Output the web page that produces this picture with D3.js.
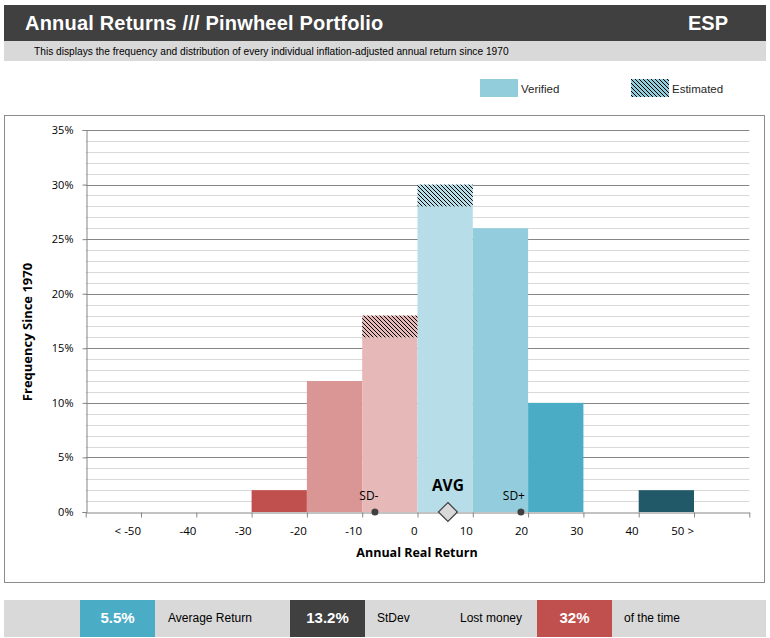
<!DOCTYPE html>
<html><head><meta charset="utf-8">
<script src="https://cdn.jsdelivr.net/npm/d3@7"></script>
<style>
body{margin:0;background:#fff;}
svg{display:block;}
</style></head>
<body>
<svg id="chart" width="770" height="638"></svg>
<script>
// ---- data ----
const binLabels = ["< -50","-40","-30","-20","-10","0","10","20","30","40","50 >"];
const binStarts = [-60,-50,-40,-30,-20,-10,0,10,20,30,40,50];
const verified  = [0,0,0,2,12,16,28,26,10,0,2,0];
const estimated = [0,0,0,0,0,2,2,0,0,0,0,0];
const binColors = ["#c0504d","#c0504d","#c0504d","#c0504d","#d99694","#e6b9b8","#b7dee8","#93cddd","#4bacc6","#4bacc6","#215968","#215968"];
const yTicks = [0,5,10,15,20,25,30,35];
const avgReturn = 5.5, stDev = 13.2, lostPct = 32;
const title = "Annual Returns /// Pinwheel Portfolio";
const country = "ESP";
const subtitle = "This displays the frequency and distribution of every individual inflation-adjusted annual return since 1970";

const svg = d3.select("#chart");
const sans = "'Liberation Sans', Arial, sans-serif";
const plotFont = "'Open Sans', 'Noto Sans', sans-serif";

// defs: hatch pattern (pixel diagonal)
const defs = svg.append("defs");
function hatch(id, bg){
  const p = defs.append("pattern").attr("id",id).attr("patternUnits","userSpaceOnUse")
    .attr("x",0).attr("y",0).attr("width",4).attr("height",4);
  p.append("rect").attr("width",4).attr("height",4).attr("fill",bg);
  [0,1,2,3].forEach(k=>p.append("rect").attr("x",k).attr("y",k).attr("width",1).attr("height",1).attr("fill","#000"));
}
binColors.forEach((c,i)=>hatch("h"+i,c));
hatch("hleg","#92cddc");

// header
svg.append("rect").attr("x",4).attr("y",5).attr("width",762).attr("height",36).attr("fill","#404040");
svg.append("text").attr("x",25).attr("y",30).attr("fill","#fff").attr("font-family",sans)
  .attr("font-weight","bold").attr("font-size",20).attr("letter-spacing",0.2).text(title);
svg.append("text").attr("x",728).attr("y",30).attr("fill","#fff").attr("font-family",sans)
  .attr("font-weight","bold").attr("font-size",20).attr("text-anchor","end").text(country);
svg.append("rect").attr("x",4).attr("y",41).attr("width",762).attr("height",20).attr("fill","#d9d9d9");
svg.append("text").attr("x",34).attr("y",55).attr("fill","#000").attr("font-family",sans)
  .attr("font-size",10.2).text(subtitle);

// legend
svg.append("rect").attr("x",480).attr("y",79).attr("width",38).attr("height",18).attr("fill","#92cddc");
svg.append("text").attr("x",521).attr("y",93).attr("font-family",sans).attr("font-size",11.5).attr("fill","#262626").text("Verified");
svg.append("rect").attr("x",631).attr("y",79).attr("width",38).attr("height",18).attr("fill","url(#hleg)");
svg.append("text").attr("x",672).attr("y",93).attr("font-family",sans).attr("font-size",11.5).attr("fill","#262626").text("Estimated");

// chart frame
svg.append("rect").attr("x",4.5).attr("y",115.5).attr("width",760).attr("height",467)
  .attr("fill","none").attr("stroke","#8c8c8c").attr("stroke-width",1);

// scales
const x = d3.scaleLinear().domain([-60,60]).range([85.7,749.3]);
const y = d3.scaleLinear().domain([0,35]).range([512,130]);

// gridlines
const g = svg.append("g");
g.selectAll("line.minor").data(d3.range(1,36).filter(v=>v%5!==0)).join("line")
  .attr("x1",x(-60)).attr("x2",x(60)).attr("y1",d=>Math.round(y(d))+0.5).attr("y2",d=>Math.round(y(d))+0.5)
  .attr("stroke","#d9d9d9").attr("stroke-width",1);
g.selectAll("line.major").data(yTicks.filter(v=>v>0)).join("line")
  .attr("x1",x(-60)).attr("x2",x(60)).attr("y1",d=>Math.round(y(d))+0.5).attr("y2",d=>Math.round(y(d))+0.5)
  .attr("stroke","#868686").attr("stroke-width",1);

// bars
const bars = binStarts.map((s,i)=>({s, v:verified[i], e:estimated[i], c:binColors[i], i}));
svg.append("g").selectAll("rect").data(bars.filter(d=>d.v>0)).join("rect")
  .attr("x",d=>x(d.s)).attr("width",d=>x(d.s+10)-x(d.s))
  .attr("y",d=>y(d.v)).attr("height",d=>y(0)-y(d.v)).attr("fill",d=>d.c);
svg.append("g").selectAll("rect").data(bars.filter(d=>d.e>0)).join("rect")
  .attr("x",d=>x(d.s)).attr("width",d=>x(d.s+10)-x(d.s))
  .attr("y",d=>y(d.v+d.e)).attr("height",d=>y(d.v)-y(d.v+d.e)).attr("fill",d=>"url(#h"+d.i+")");

// y axis
const yAxis = svg.append("g").attr("transform","translate("+(Math.round(x(-60))+0.5)+",0)")
  .call(d3.axisLeft(y).tickValues(yTicks).tickSize(4).tickFormat(d=>d+"%"));
yAxis.select(".domain").attr("stroke","#868686");
yAxis.selectAll(".tick line").attr("stroke","#868686");
yAxis.selectAll(".tick text").attr("font-family",plotFont).attr("font-size",11).attr("fill","#000").attr("x",-13);

// x axis
const xAxis = svg.append("g").attr("transform","translate(0,"+(Math.round(y(0))+0.5)+")")
  .call(d3.axisBottom(x).tickValues(d3.range(-60,61,10)).tickSize(5).tickSizeOuter(0).tickFormat(""));
xAxis.select(".domain").attr("stroke","#868686");
xAxis.selectAll(".tick line").attr("stroke","#868686");
svg.append("g").selectAll("text").data(binLabels).join("text")
  .attr("x",(d,i)=>x(-50+10*i)).attr("y",535).attr("text-anchor","end")
  .attr("font-family",plotFont).attr("font-size",11.5).attr("fill","#000").text(d=>d);

// axis titles
svg.append("text").attr("transform","translate(32,332) rotate(-90)").attr("text-anchor","middle")
  .attr("font-family",plotFont).attr("font-weight","bold").attr("font-size",13).text("Frequency Since 1970");
svg.append("text").attr("x",417).attr("y",557).attr("text-anchor","middle")
  .attr("font-family",plotFont).attr("font-weight","bold").attr("font-size",12.5).text("Annual Real Return");

// markers
const sdm = avgReturn - stDev, sdp = avgReturn + stDev;
svg.append("circle").attr("cx",x(sdm)).attr("cy",y(0)).attr("r",3.5).attr("fill","#404040");
svg.append("circle").attr("cx",x(sdp)).attr("cy",y(0)).attr("r",3.5).attr("fill","#404040");
svg.append("text").attr("x",x(sdm)-6).attr("y",500).attr("text-anchor","middle").attr("font-family",plotFont).attr("font-size",12).text("SD-");
svg.append("text").attr("x",x(sdp)-7).attr("y",500).attr("text-anchor","middle").attr("font-family",plotFont).attr("font-size",12).text("SD+");
const ax = x(avgReturn), ay = y(0);
svg.append("path").attr("d",`M${ax},${ay-9.5} L${ax+9.5},${ay} L${ax},${ay+9.5} L${ax-9.5},${ay} Z`)
  .attr("fill","#d9d9d9").attr("stroke","#404040").attr("stroke-width",1.2);
svg.append("text").attr("x",ax).attr("y",491).attr("text-anchor","middle").attr("font-family",plotFont)
  .attr("font-weight","bold").attr("font-size",15.5).text("AVG");

// bottom stats bar
svg.append("rect").attr("x",4).attr("y",600).attr("width",762).attr("height",37).attr("fill","#d9d9d9");
const stats = [
  {x:80, w:75, fill:"#4bacc6", t:avgReturn.toFixed(1)+"%"},
  {x:290, w:75, fill:"#404040", t:stDev.toFixed(1)+"%"},
  {x:537, w:75, fill:"#c0504d", t:lostPct+"%"}
];
svg.append("g").selectAll("rect").data(stats).join("rect")
  .attr("x",d=>d.x).attr("y",600).attr("width",d=>d.w).attr("height",37).attr("fill",d=>d.fill);
svg.append("g").selectAll("text").data(stats).join("text")
  .attr("x",d=>d.x+d.w/2).attr("y",623).attr("text-anchor","middle").attr("fill","#fff")
  .attr("font-family",sans).attr("font-weight","bold").attr("font-size",15).text(d=>d.t);
const labels = [{x:168,t:"Average Return"},{x:377,t:"StDev"},{x:460,t:"Lost money"},{x:624,t:"of the time"}];
svg.append("g").selectAll("text").data(labels).join("text")
  .attr("x",d=>d.x).attr("y",622).attr("fill","#000").attr("font-family",sans).attr("font-size",12).text(d=>d.t);
</script>
</body></html>
